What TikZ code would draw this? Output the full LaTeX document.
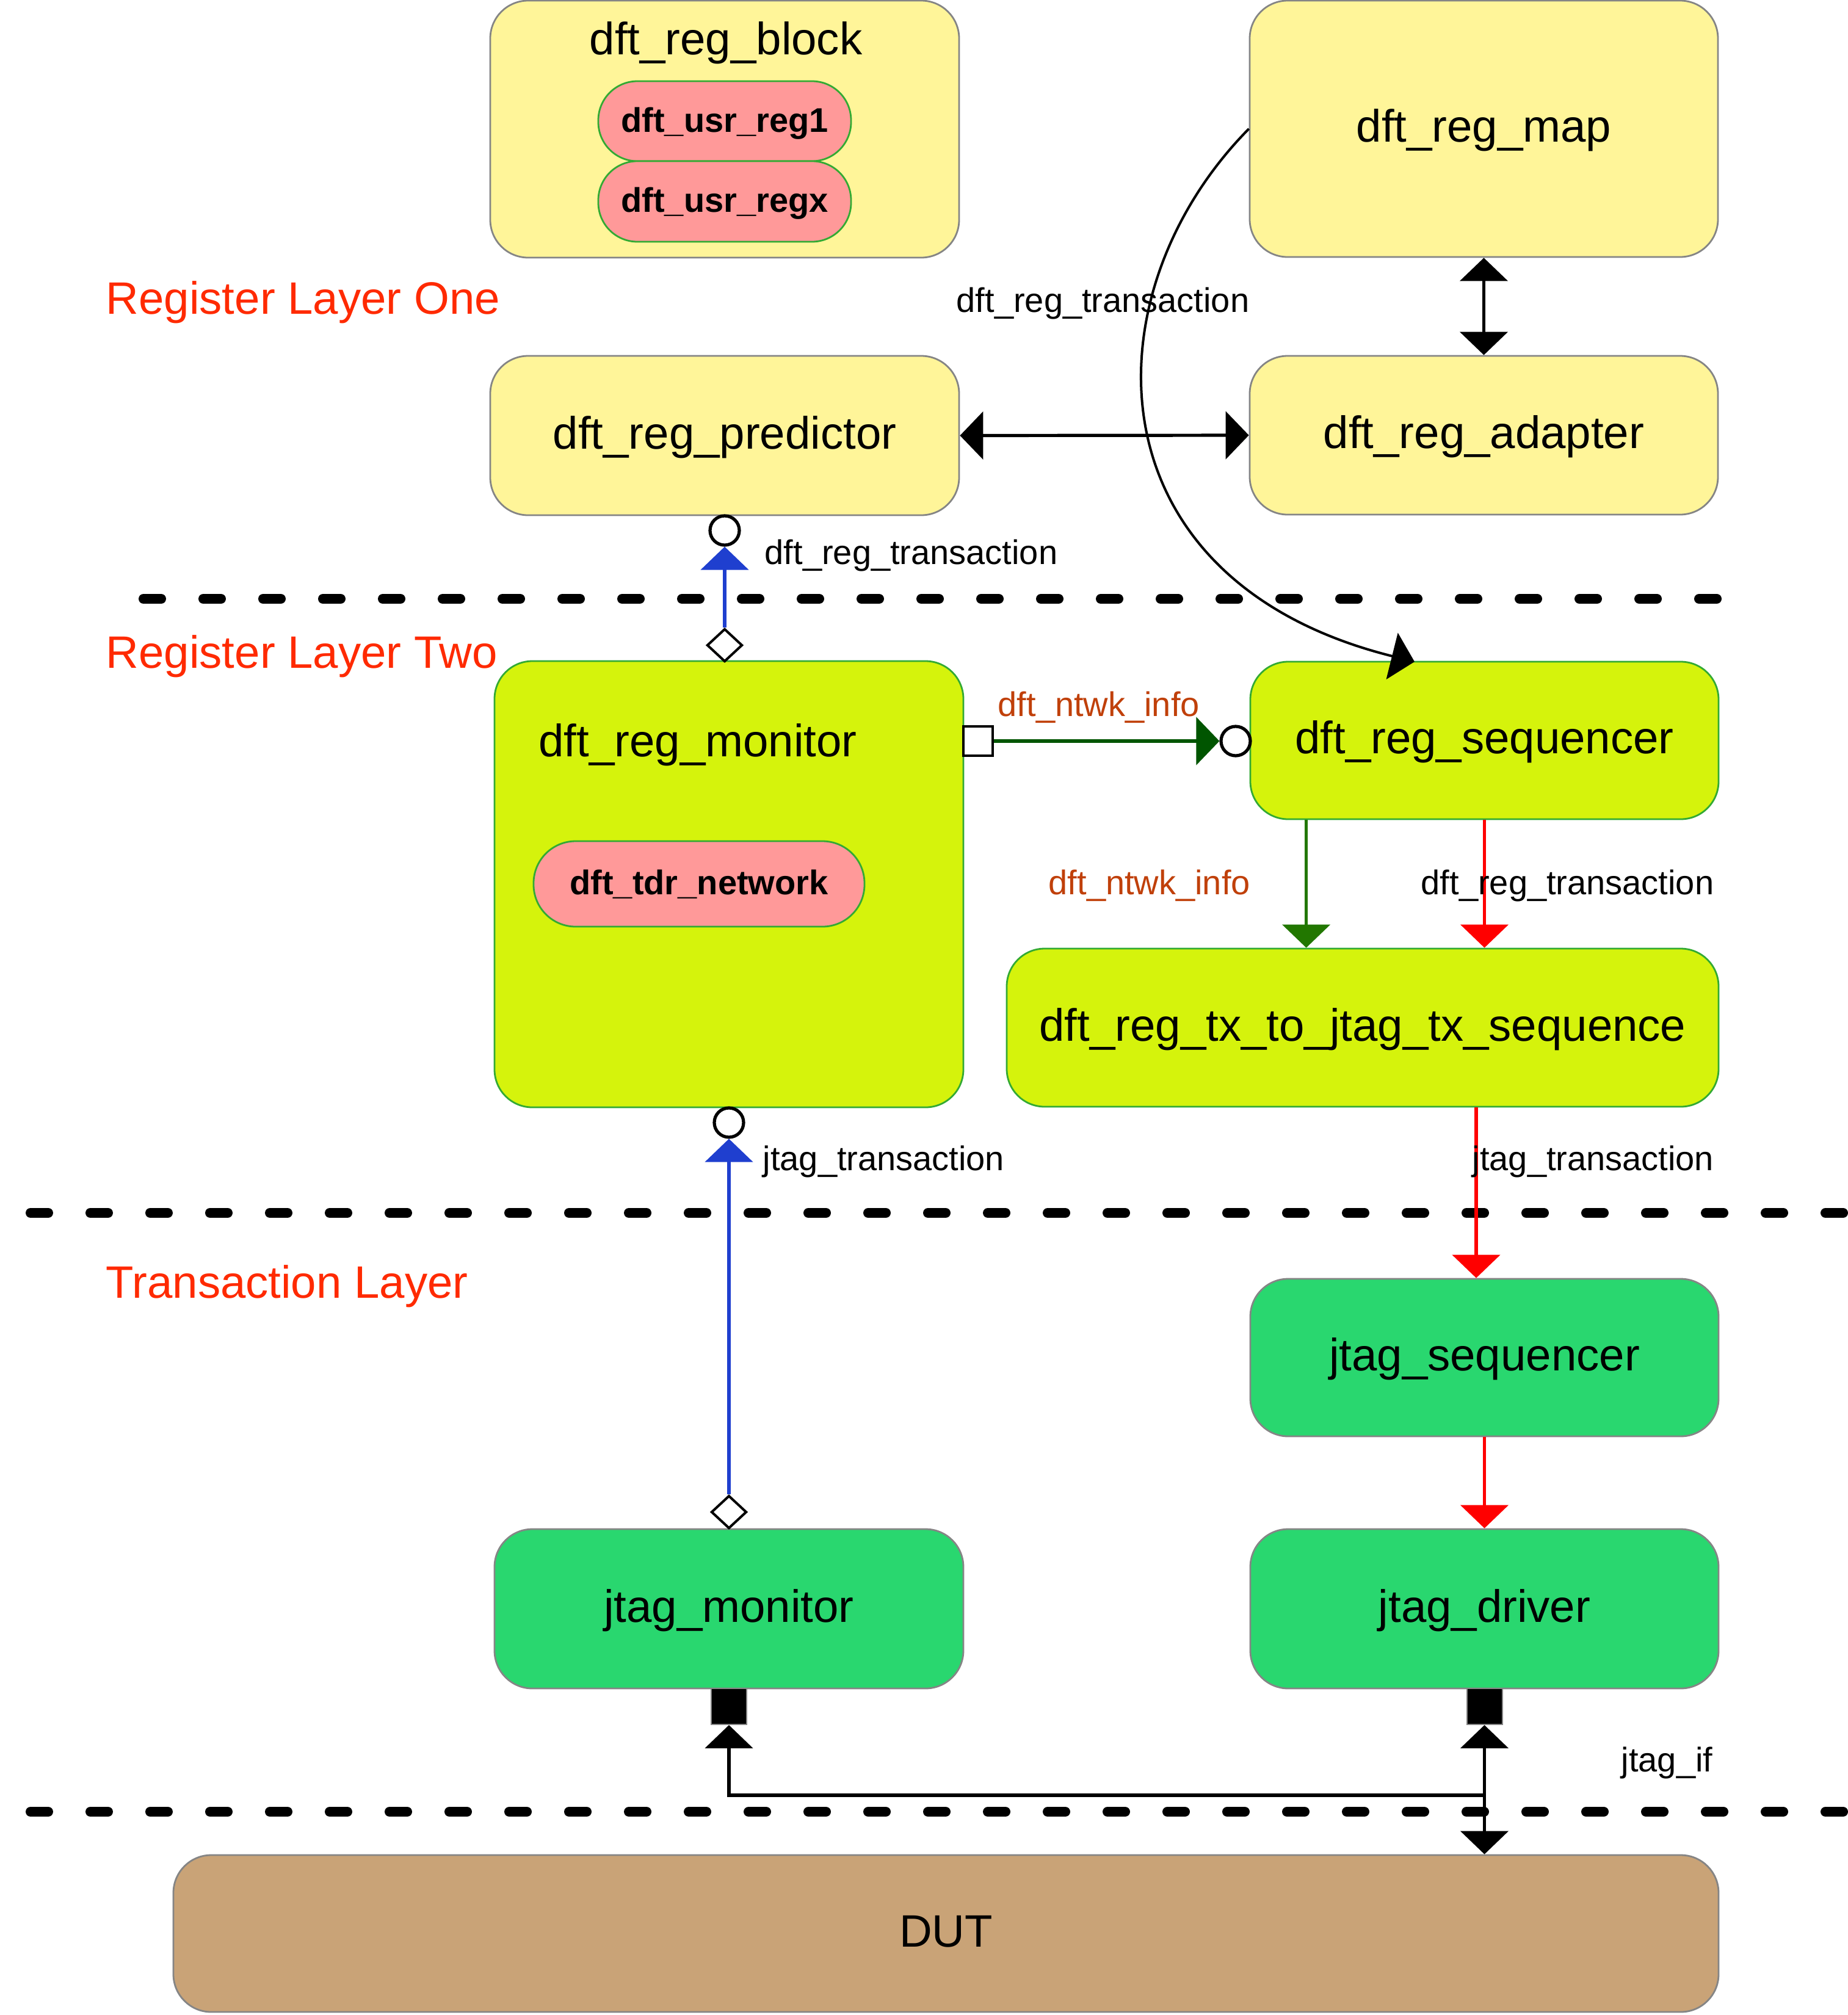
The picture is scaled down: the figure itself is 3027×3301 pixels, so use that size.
\documentclass[tikz,border=0pt]{standalone}
\usepackage{fontspec}
\setmainfont{Liberation Sans}
\usetikzlibrary{arrows.meta,shapes.geometric,calc}
\definecolor{boxyellow}{HTML}{FFF599}
\definecolor{boxlime}{HTML}{D5F30C}
\definecolor{boxgreen}{HTML}{29D76F}
\definecolor{boxtan}{HTML}{C9A377}
\definecolor{pillpink}{HTML}{FF9999}
\definecolor{pillborder}{HTML}{33AA33}
\definecolor{greyborder}{HTML}{858585}
\definecolor{layerred}{HTML}{FF2A00}
\definecolor{ntwkbrown}{HTML}{C0400A}
\definecolor{conblue}{HTML}{1F3FCF}
\definecolor{condarkgreen}{HTML}{005500}
\definecolor{congreen}{HTML}{227700}
\definecolor{conred}{HTML}{FF0000}
\newcommand{\bigfnt}{\fontsize{18.6}{22}\selectfont}
\newcommand{\smallfnt}{\fontsize{14}{17}\selectfont}
\begin{document}
\begin{tikzpicture}[x=0.25pt,y=-0.25pt,
  >={Triangle[length=9.5pt,width=19.5pt]},
  sz/.style 2 args={minimum width=#1*0.25pt, minimum height=#2*0.25pt},
  box/.style={draw=greyborder, line width=0.7pt, rounded corners=15.5pt, inner sep=0pt, font=\bigfnt, text height=13.95pt, text depth=2.98pt},
  ybox/.style={box, fill=boxyellow},
  lbox/.style={box, fill=boxlime, draw=pillborder},
  gbox/.style={box, fill=boxgreen},
  dutbox/.style={box, fill=boxtan},
  pill/.style={draw=pillborder, fill=pillpink, line width=0.7pt, inner sep=0pt, font=\smallfnt\bfseries, text height=10.5pt, text depth=1.75pt},
  title/.style={inner sep=0pt, anchor=base, font=\bigfnt},
  lbl/.style={inner sep=0pt, anchor=base west, font=\smallfnt},
  layerlbl/.style={inner sep=0pt, anchor=base west, font=\bigfnt, text=layerred},
  layerline/.style={line width=4pt, dash pattern=on 7.25pt off 17.25pt, line cap=round},
  conn/.style={line width=1.3pt},
  ring/.style={circle, draw=black, fill=white, line width=1.3pt, minimum size=12pt, inner sep=0pt},
  dmd/.style={diamond, draw=black, fill=white, line width=1pt, minimum width=14.5pt, minimum height=13.5pt, inner sep=0pt},
  wsq/.style={rectangle, draw=black, fill=white, line width=1.2pt, minimum size=12pt, inner sep=0pt},
  bsq/.style={rectangle, draw=greyborder, fill=black, line width=0.5pt, minimum width=14.5pt, minimum height=14.75pt, inner sep=0pt}
]
\useasboundingbox (0,0) rectangle (3027,3301);

% layer separators
\draw[layerline] (235,981) -- (2817,981);
\draw[layerline] (50,1987) -- (3027,1987);
\draw[layerline] (50,2968) -- (3027,2968);

% layer labels
\node[layerlbl] (lay1) at (173,514) {Register Layer One};
\node[layerlbl] (lay2) at (173,1094) {Register Layer Two};
\node[layerlbl] (lay3) at (173,2126) {Transaction Layer};

% register layer one
\node[ybox, sz={768}{421}] (block) at (1187,211.5) {};
\node[title] (blocktitle) at (1189,89) {dft\_reg\_block};
\node[pill, sz={414}{131}, rounded corners=16pt] (reg1) at (1187,198.5) {dft\_usr\_reg1};
\node[pill, sz={414}{132}, rounded corners=16pt] (regx) at (1187,330) {dft\_usr\_regx};
\node[ybox, sz={767}{420}] (map) at (2430.5,211) {dft\_reg\_map};
\node[ybox, sz={768}{261}] (pred) at (1187,713.5) {dft\_reg\_predictor};
\node[ybox, sz={767}{260}] (adap) at (2430.5,713) {dft\_reg\_adapter};

% register layer two
\node[lbox, sz={768}{731}] (mon) at (1194,1448.5) {};
\node[title] (montitle) at (1143,1239) {dft\_reg\_monitor};
\node[pill, sz={542}{140}, rounded corners=17.2pt] (tdr) at (1145,1448) {dft\_tdr\_network};
\node[lbox, sz={767}{258}] (seq) at (2431.5,1213) {dft\_reg\_sequencer};
\node[lbox, sz={1166}{259}] (tx) at (2232,1683.5) {dft\_reg\_tx\_to\_jtag\_tx\_sequence};

% transaction layer
\node[gbox, sz={767}{258}] (jseq) at (2431.5,2224) {jtag\_sequencer};
\node[gbox, sz={768}{261}] (jmon) at (1194,2635.5) {jtag\_monitor};
\node[gbox, sz={767}{261}] (jdrv) at (2431.5,2635.5) {jtag\_driver};
\node[dutbox, sz={2531}{257}] (dut) at (1549.5,3167.5) {DUT};

% map <-> adapter, predictor <-> adapter
\draw[conn,<->] (map.south) -- (adap.north);
\draw[conn,<->] (pred.east) -- (adap.west);

% curved dft_reg_transaction from map to sequencer
\coordinate (seqin) at (2317,1084);
\draw[line width=1pt,->] (map.west) .. controls (1780,480) and (1780,950) .. (seqin);
\node[lbl] (curvelbl) at (1566,511) {dft\_reg\_transaction};

% monitor -> predictor
\node[ring] (c1) at (1187,869) {};
\node[dmd] (d1) at (1187,1057) {};
\draw[conn,draw=conblue,fill=conblue,->] (d1.north) -- (c1.south);
\node[lbl] (predlbl) at (1252,924) {dft\_reg\_transaction};

% monitor -> sequencer
\node[wsq] (sq) at (1602,1214) {};
\node[ring] (c3) at (2024,1214) {};
\draw[conn,draw=condarkgreen,fill=condarkgreen,->] (sq.east) -- (c3.west);
\node[lbl,text=ntwkbrown] (ntwk1) at (1634,1173) {dft\_ntwk\_info};

% sequencer -> tx sequence
\coordinate (g1) at ($(seq.south west)+(93,0)$);
\draw[conn,draw=congreen,fill=congreen,->] (g1) -- (g1 |- tx.north);
\node[lbl,text=ntwkbrown] (ntwk2) at (1717,1465) {dft\_ntwk\_info};
\draw[conn,draw=conred,fill=conred,->] (seq.south) -- (seq.south |- tx.north);
\node[lbl] (seqlbl) at (2327,1465) {dft\_reg\_transaction};

% tx sequence -> jtag sequencer
\coordinate (r1) at ($(tx.south)+(186,0)$);
\draw[conn,draw=conred,fill=conred,->] (r1) -- (r1 |- jseq.north);
\node[lbl] (jtlbl2) at (2411,1917) {jtag\_transaction};

% jtag sequencer -> driver
\draw[conn,draw=conred,fill=conred,->] (jseq.south) -- (jdrv.north);

% jtag monitor -> dft_reg_monitor
\node[ring] (c2) at (1194,1839) {};
\node[dmd] (d2) at (1194,2477) {};
\draw[conn,draw=conblue,fill=conblue,->] (d2.north) -- (c2.south);
\node[lbl] (jtlbl1) at (1249,1917) {jtag\_transaction};

% jtag_if
\node[bsq] (bm) at (1194,2795.5) {};
\node[bsq] (bd) at (2431.5,2795.5) {};
\coordinate (jn) at (2431.5,2941);
\draw[conn,->] (jn) -| (bm.south);
\draw[conn,->] (jn) -- (bd.south);
\draw[conn,->] (jn) -- (jn |- dut.north);
\node[lbl] (jiflbl) at (2655,2902) {jtag\_if};
\end{tikzpicture}
\end{document}
